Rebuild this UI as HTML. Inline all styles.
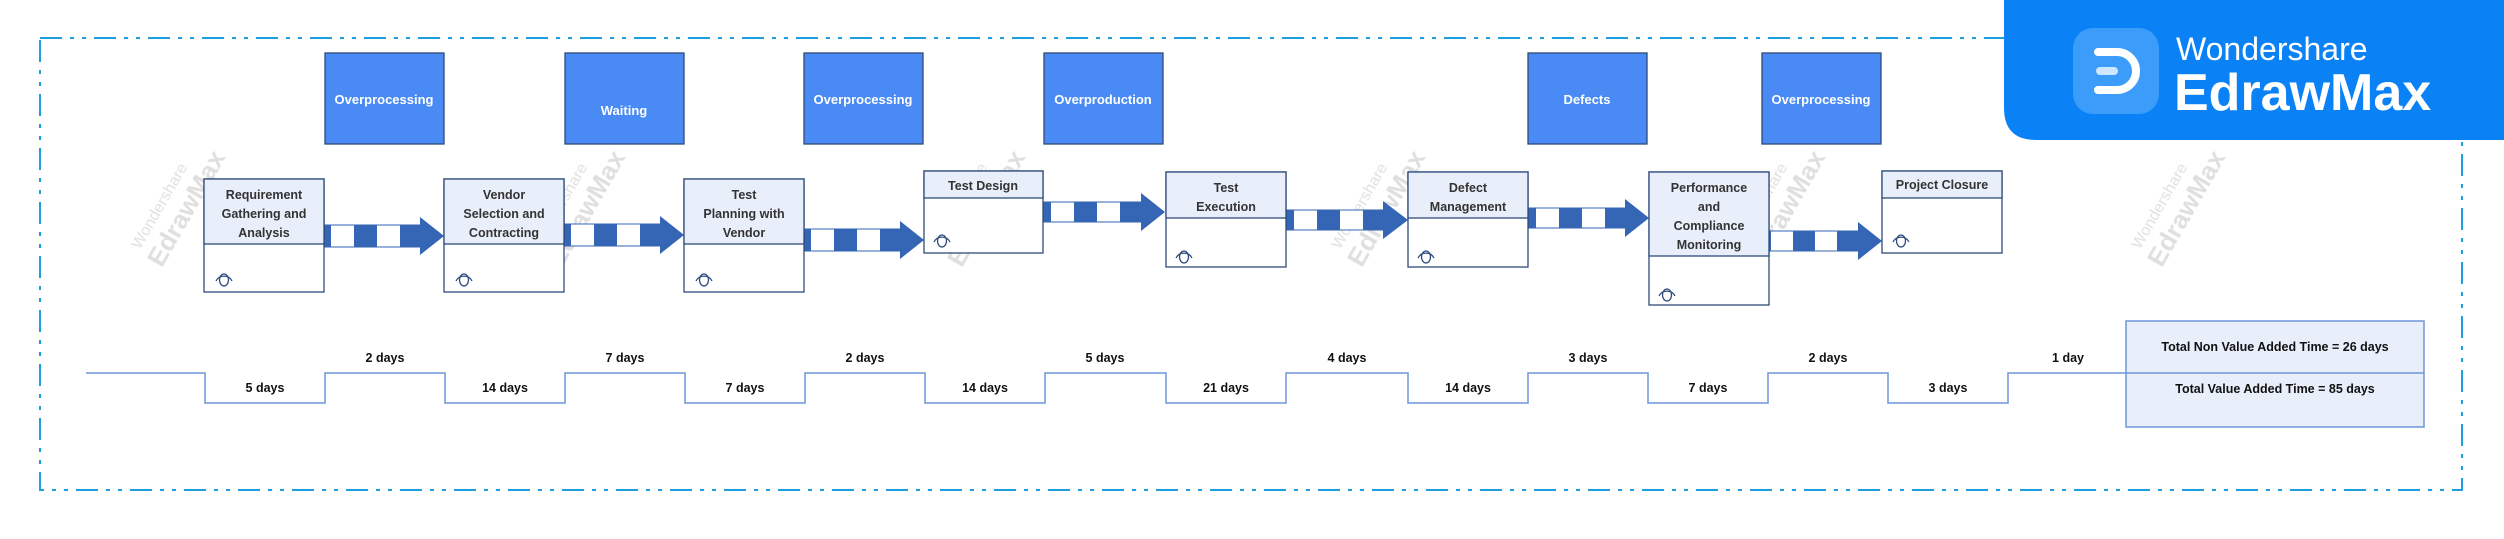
<!DOCTYPE html>
<html><head><meta charset="utf-8"><style>
html,body{margin:0;padding:0;background:#fff;}
body{width:2504px;height:534px;overflow:hidden;font-family:"Liberation Sans",sans-serif;}
</style></head><body>
<svg width="2504" height="534" viewBox="0 0 2504 534" xmlns="http://www.w3.org/2000/svg" font-family="Liberation Sans, sans-serif">
<defs>
<g id="eye"><path d="M-8,6 A9,9 0 0 1 8,6" fill="none" stroke="#2e4a7a" stroke-width="1.3"/><ellipse cx="0" cy="5" rx="4.5" ry="6" fill="none" stroke="#2e4a7a" stroke-width="1.3"/></g>
</defs>
<!-- dashed border -->
<rect x="40" y="38" width="2422" height="452" fill="none" stroke="#1ea0e0" stroke-width="2" stroke-dasharray="22,8,4,8,4,8"/>
<!-- watermarks -->
<g fill="#d8d8d8" font-size="26" opacity="0.8">
<g transform="translate(140,250) rotate(-60)"><text x="0" y="0" font-size="16">Wondershare</text><text x="-5" y="28" font-weight="bold">EdrawMax</text></g>
<g transform="translate(540,250) rotate(-60)"><text x="0" y="0" font-size="16">Wondershare</text><text x="-5" y="28" font-weight="bold">EdrawMax</text></g>
<g transform="translate(940,250) rotate(-60)"><text x="0" y="0" font-size="16">Wondershare</text><text x="-5" y="28" font-weight="bold">EdrawMax</text></g>
<g transform="translate(1340,250) rotate(-60)"><text x="0" y="0" font-size="16">Wondershare</text><text x="-5" y="28" font-weight="bold">EdrawMax</text></g>
<g transform="translate(1740,250) rotate(-60)"><text x="0" y="0" font-size="16">Wondershare</text><text x="-5" y="28" font-weight="bold">EdrawMax</text></g>
<g transform="translate(2140,250) rotate(-60)"><text x="0" y="0" font-size="16">Wondershare</text><text x="-5" y="28" font-weight="bold">EdrawMax</text></g>
</g>
<!-- waste boxes -->
<g fill="#4a8af4" stroke="#2e4a7a" stroke-width="1.3">
<rect x="325" y="53" width="119" height="91"/><rect x="565" y="53" width="119" height="91"/><rect x="804" y="53" width="119" height="91"/><rect x="1044" y="53" width="119" height="91"/><rect x="1528" y="53" width="119" height="91"/><rect x="1762" y="53" width="119" height="91"/>
</g>
<g fill="#fff" font-size="13" font-weight="bold" text-anchor="middle">
<text x="384" y="104">Overprocessing</text><text x="624" y="115">Waiting</text><text x="863" y="104">Overprocessing</text><text x="1103" y="104">Overproduction</text><text x="1587" y="104">Defects</text><text x="1821" y="104">Overprocessing</text>
</g>
<!-- arrows -->
<g id="arrows">
<g transform="translate(324,236)"><rect x="0" y="-11" width="97" height="22" fill="#fff" stroke="#3565b5"/><rect x="0" y="-11" width="7" height="22" fill="#3565b5"/><rect x="30" y="-11" width="23" height="22" fill="#3565b5"/><rect x="76" y="-11" width="21" height="22" fill="#3565b5"/><polygon points="96,-19 120,0 96,19" fill="#3565b5"/></g>
<g transform="translate(564,235)"><rect x="0" y="-11" width="97" height="22" fill="#fff" stroke="#3565b5"/><rect x="0" y="-11" width="7" height="22" fill="#3565b5"/><rect x="30" y="-11" width="23" height="22" fill="#3565b5"/><rect x="76" y="-11" width="21" height="22" fill="#3565b5"/><polygon points="96,-19 120,0 96,19" fill="#3565b5"/></g>
<g transform="translate(804,240)"><rect x="0" y="-11" width="97" height="22" fill="#fff" stroke="#3565b5"/><rect x="0" y="-11" width="7" height="22" fill="#3565b5"/><rect x="30" y="-11" width="23" height="22" fill="#3565b5"/><rect x="76" y="-11" width="21" height="22" fill="#3565b5"/><polygon points="96,-19 120,0 96,19" fill="#3565b5"/></g>
<g transform="translate(1043,212)"><rect x="0" y="-10" width="99" height="20" fill="#fff" stroke="#3565b5"/><rect x="0" y="-10" width="8" height="20" fill="#3565b5"/><rect x="31" y="-10" width="23" height="20" fill="#3565b5"/><rect x="77" y="-10" width="22" height="20" fill="#3565b5"/><polygon points="98,-19 122,0 98,19" fill="#3565b5"/></g>
<g transform="translate(1286,220)"><rect x="0" y="-10" width="98" height="20" fill="#fff" stroke="#3565b5"/><rect x="0" y="-10" width="8" height="20" fill="#3565b5"/><rect x="31" y="-10" width="23" height="20" fill="#3565b5"/><rect x="77" y="-10" width="21" height="20" fill="#3565b5"/><polygon points="97,-19 122,0 97,19" fill="#3565b5"/></g>
<g transform="translate(1528,218)"><rect x="0" y="-10" width="98" height="20" fill="#fff" stroke="#3565b5"/><rect x="0" y="-10" width="8" height="20" fill="#3565b5"/><rect x="31" y="-10" width="23" height="20" fill="#3565b5"/><rect x="77" y="-10" width="21" height="20" fill="#3565b5"/><polygon points="97,-19 121,0 97,19" fill="#3565b5"/></g>
<g transform="translate(1769,241)"><rect x="0" y="-10" width="90" height="20" fill="#fff" stroke="#3565b5"/><rect x="0" y="-10" width="2" height="20" fill="#3565b5"/><rect x="24" y="-10" width="22" height="20" fill="#3565b5"/><rect x="68" y="-10" width="22" height="20" fill="#3565b5"/><polygon points="89,-19 113,0 89,19" fill="#3565b5"/></g>
</g>
<!-- process boxes -->
<g stroke="#2e4a7a" stroke-width="1.3">
<rect x="204" y="179" width="120" height="113" fill="#fff"/><rect x="204" y="179" width="120" height="65" fill="#e8eefa"/>
<rect x="444" y="179" width="120" height="113" fill="#fff"/><rect x="444" y="179" width="120" height="65" fill="#e8eefa"/>
<rect x="684" y="179" width="120" height="113" fill="#fff"/><rect x="684" y="179" width="120" height="65" fill="#e8eefa"/>
<rect x="924" y="171" width="119" height="82" fill="#fff"/><rect x="924" y="171" width="119" height="27" fill="#e8eefa"/>
<rect x="1166" y="172" width="120" height="95" fill="#fff"/><rect x="1166" y="172" width="120" height="46" fill="#e8eefa"/>
<rect x="1408" y="172" width="120" height="95" fill="#fff"/><rect x="1408" y="172" width="120" height="46" fill="#e8eefa"/>
<rect x="1649" y="172" width="120" height="133" fill="#fff"/><rect x="1649" y="172" width="120" height="84" fill="#e8eefa"/>
<rect x="1882" y="171" width="120" height="82" fill="#fff"/><rect x="1882" y="171" width="120" height="27" fill="#e8eefa"/>
</g>
<g fill="#333" font-size="12.5" font-weight="bold" text-anchor="middle">
<text x="264" y="199">Requirement</text><text x="264" y="218">Gathering and</text><text x="264" y="237">Analysis</text>
<text x="504" y="199">Vendor</text><text x="504" y="218">Selection and</text><text x="504" y="237">Contracting</text>
<text x="744" y="199">Test</text><text x="744" y="218">Planning with</text><text x="744" y="237">Vendor</text>
<text x="983" y="190">Test Design</text>
<text x="1226" y="192">Test</text><text x="1226" y="211">Execution</text>
<text x="1468" y="192">Defect</text><text x="1468" y="211">Management</text>
<text x="1709" y="192">Performance</text><text x="1709" y="211">and</text><text x="1709" y="230">Compliance</text><text x="1709" y="249">Monitoring</text>
<text x="1942" y="189">Project Closure</text>
</g>
<use href="#eye" x="224" y="275"/><use href="#eye" x="464" y="275"/><use href="#eye" x="704" y="275"/><use href="#eye" x="942" y="236"/><use href="#eye" x="1184" y="252"/><use href="#eye" x="1426" y="252"/><use href="#eye" x="1667" y="290"/><use href="#eye" x="1901" y="236"/>
<!-- timeline -->
<polyline fill="none" stroke="#6f95d8" stroke-width="1.5" points="86,373 205,373 205,403 325,403 325,373 445,373 445,403 565,403 565,373 685,373 685,403 805,403 805,373 925,373 925,403 1045,403 1045,373 1166,373 1166,403 1286,403 1286,373 1408,373 1408,403 1528,403 1528,373 1648,373 1648,403 1768,403 1768,373 1888,373 1888,403 2008,403 2008,373 2126,373"/>
<g fill="#111" font-size="12.5" font-weight="bold" text-anchor="middle">
<text x="265" y="392">5 days</text><text x="385" y="362">2 days</text>
<text x="505" y="392">14 days</text><text x="625" y="362">7 days</text>
<text x="745" y="392">7 days</text><text x="865" y="362">2 days</text>
<text x="985" y="392">14 days</text><text x="1105" y="362">5 days</text>
<text x="1226" y="392">21 days</text><text x="1347" y="362">4 days</text>
<text x="1468" y="392">14 days</text><text x="1588" y="362">3 days</text>
<text x="1708" y="392">7 days</text><text x="1828" y="362">2 days</text>
<text x="1948" y="392">3 days</text><text x="2068" y="362">1 day</text>
</g>
<rect x="2126" y="321" width="298" height="106" fill="#e8eefa" stroke="#6f95d8" stroke-width="1.5"/>
<line x1="2126" y1="373" x2="2424" y2="373" stroke="#6f95d8" stroke-width="1.5"/>
<g fill="#111" font-size="12.5" font-weight="bold" text-anchor="middle">
<text x="2275" y="351">Total Non Value Added Time = 26 days</text>
<text x="2275" y="393">Total Value Added Time = 85 days</text>
</g>
<!-- logo -->
<path d="M2004,0 H2504 V140 H2036 Q2004,140 2004,108 Z" fill="#0a82f6"/>
<rect x="2073" y="28" width="86" height="86" rx="20" fill="#3b9cfa"/>
<path d="M2098,52 H2117 A19,19 0 0 1 2117,90 H2098" fill="none" stroke="#fff" stroke-width="8" stroke-linecap="round"/>
<line x1="2100" y1="71" x2="2114" y2="71" stroke="#cfe6ff" stroke-width="8" stroke-linecap="round"/>
<text x="2176" y="60" fill="#fff" font-size="32">Wondershare</text>
<text x="2174" y="110" fill="#fff" font-size="52" font-weight="bold">EdrawMax</text>
</svg>
</body></html>
